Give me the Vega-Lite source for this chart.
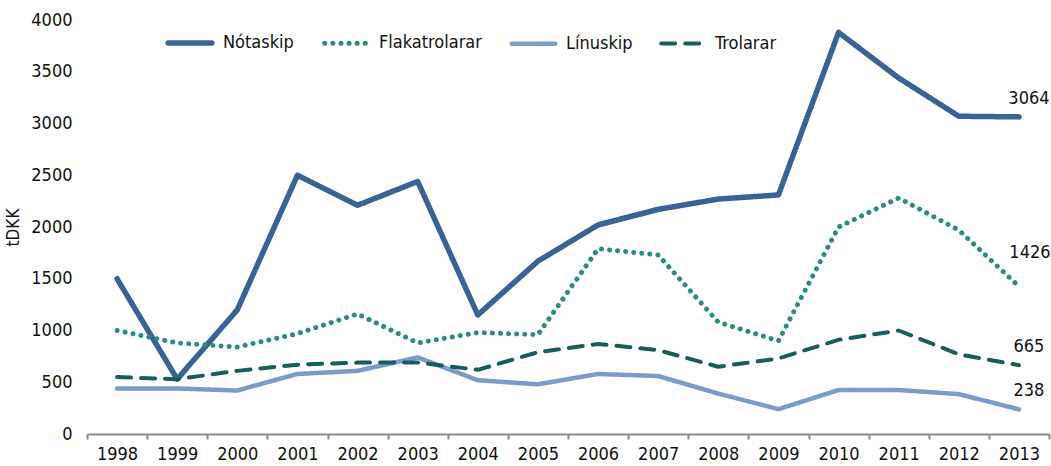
{
  "$schema": "https://vega.github.io/schema/vega-lite/v6.json",
  "width": 962,
  "height": 414,
  "autosize": {"type": "none"},
  "padding": {"left": 87, "top": 20, "right": 2, "bottom": 32},
  "config": {
    "view": {"stroke": null},
    "font": "Liberation Sans Narrow, DejaVu Sans Condensed, sans-serif",
    "text": {"font": "Liberation Sans Narrow, DejaVu Sans Condensed, sans-serif"}
  },
  "data": {
    "values": [
      {"year": "1998", "series": "Nótaskip", "value": 1500},
      {"year": "1999", "series": "Nótaskip", "value": 530},
      {"year": "2000", "series": "Nótaskip", "value": 1200},
      {"year": "2001", "series": "Nótaskip", "value": 2500},
      {"year": "2002", "series": "Nótaskip", "value": 2210},
      {"year": "2003", "series": "Nótaskip", "value": 2440},
      {"year": "2004", "series": "Nótaskip", "value": 1150},
      {"year": "2005", "series": "Nótaskip", "value": 1670},
      {"year": "2006", "series": "Nótaskip", "value": 2020},
      {"year": "2007", "series": "Nótaskip", "value": 2170},
      {"year": "2008", "series": "Nótaskip", "value": 2270},
      {"year": "2009", "series": "Nótaskip", "value": 2310},
      {"year": "2010", "series": "Nótaskip", "value": 3880},
      {"year": "2011", "series": "Nótaskip", "value": 3440},
      {"year": "2012", "series": "Nótaskip", "value": 3070},
      {"year": "2013", "series": "Nótaskip", "value": 3064},
      {"year": "1998", "series": "Flakatrolarar", "value": 1000},
      {"year": "1999", "series": "Flakatrolarar", "value": 880},
      {"year": "2000", "series": "Flakatrolarar", "value": 840},
      {"year": "2001", "series": "Flakatrolarar", "value": 970},
      {"year": "2002", "series": "Flakatrolarar", "value": 1160},
      {"year": "2003", "series": "Flakatrolarar", "value": 880},
      {"year": "2004", "series": "Flakatrolarar", "value": 980},
      {"year": "2005", "series": "Flakatrolarar", "value": 960},
      {"year": "2006", "series": "Flakatrolarar", "value": 1790},
      {"year": "2007", "series": "Flakatrolarar", "value": 1730},
      {"year": "2008", "series": "Flakatrolarar", "value": 1080},
      {"year": "2009", "series": "Flakatrolarar", "value": 900},
      {"year": "2010", "series": "Flakatrolarar", "value": 2000},
      {"year": "2011", "series": "Flakatrolarar", "value": 2280},
      {"year": "2012", "series": "Flakatrolarar", "value": 1970},
      {"year": "2013", "series": "Flakatrolarar", "value": 1426},
      {"year": "1998", "series": "Línuskip", "value": 440},
      {"year": "1999", "series": "Línuskip", "value": 440},
      {"year": "2000", "series": "Línuskip", "value": 420},
      {"year": "2001", "series": "Línuskip", "value": 580},
      {"year": "2002", "series": "Línuskip", "value": 610},
      {"year": "2003", "series": "Línuskip", "value": 740},
      {"year": "2004", "series": "Línuskip", "value": 520},
      {"year": "2005", "series": "Línuskip", "value": 480},
      {"year": "2006", "series": "Línuskip", "value": 580},
      {"year": "2007", "series": "Línuskip", "value": 560},
      {"year": "2008", "series": "Línuskip", "value": 390},
      {"year": "2009", "series": "Línuskip", "value": 240},
      {"year": "2010", "series": "Línuskip", "value": 425},
      {"year": "2011", "series": "Línuskip", "value": 425},
      {"year": "2012", "series": "Línuskip", "value": 385},
      {"year": "2013", "series": "Línuskip", "value": 238},
      {"year": "1998", "series": "Trolarar", "value": 550},
      {"year": "1999", "series": "Trolarar", "value": 530},
      {"year": "2000", "series": "Trolarar", "value": 610},
      {"year": "2001", "series": "Trolarar", "value": 670},
      {"year": "2002", "series": "Trolarar", "value": 690},
      {"year": "2003", "series": "Trolarar", "value": 690},
      {"year": "2004", "series": "Trolarar", "value": 620},
      {"year": "2005", "series": "Trolarar", "value": 790},
      {"year": "2006", "series": "Trolarar", "value": 870},
      {"year": "2007", "series": "Trolarar", "value": 810},
      {"year": "2008", "series": "Trolarar", "value": 650},
      {"year": "2009", "series": "Trolarar", "value": 730},
      {"year": "2010", "series": "Trolarar", "value": 910},
      {"year": "2011", "series": "Trolarar", "value": 1000},
      {"year": "2012", "series": "Trolarar", "value": 770},
      {"year": "2013", "series": "Trolarar", "value": 665}
    ]
  },
  "encoding": {
    "x": {
      "field": "year", "type": "ordinal",
      "scale": {"type": "band", "paddingInner": 0, "paddingOuter": 0},
      "axis": {
        "title": null, "labelAngle": 0, "tickBand": "extent",
        "domainColor": "#8a8a8a", "domainWidth": 2, "tickColor": "#8a8a8a", "tickWidth": 2, "tickSize": 5,
        "labelFontSize": 18, "labelColor": "#111111", "labelPadding": 6
      }
    },
    "y": {
      "field": "value", "type": "quantitative",
      "scale": {"domain": [0, 4000], "nice": false},
      "axis": {
        "title": "tDKK", "titleFontSize": 17, "titleFontWeight": "normal", "titleColor": "#111111", "titlePadding": 8,
        "values": [0, 500, 1000, 1500, 2000, 2500, 3000, 3500, 4000], "format": "d",
        "grid": false, "domain": false, "ticks": false,
        "labelFontSize": 18, "labelColor": "#111111", "labelPadding": 15
      }
    }
  },
  "layer": [
    {
      "mark": {"type": "line", "strokeCap": "round", "strokeJoin": "round"},
      "encoding": {
        "color": {
          "field": "series", "type": "nominal",
          "scale": {
            "domain": ["Nótaskip", "Flakatrolarar", "Línuskip", "Trolarar"],
            "range": ["#3a6395", "#2a8c82", "#7b9bcb", "#175d5e"]
          },
          "legend": {
            "title": null, "orient": "none", "direction": "horizontal", "legendX": 78, "legendY": -2,
            "symbolType": "stroke", "symbolSize": 1900, "symbolStrokeWidth": 5,
            "labelFontSize": 18, "labelColor": "#111111", "columnPadding": 20, "labelOffset": 8,
            "encode": {"symbols": {"update": {"strokeCap": {"value": "round"}}}}
          }
        },
        "strokeDash": {
          "field": "series", "type": "nominal",
          "scale": {
            "domain": ["Nótaskip", "Flakatrolarar", "Línuskip", "Trolarar"],
            "range": [[1, 0], [0.1, 8], [1, 0], [14, 10]]
          },
          "legend": {
            "title": null, "orient": "none", "direction": "horizontal", "legendX": 78, "legendY": -2,
            "symbolType": "stroke", "symbolSize": 1900, "symbolStrokeWidth": 5,
            "labelFontSize": 18, "labelColor": "#111111", "columnPadding": 20, "labelOffset": 8,
            "encode": {"symbols": {"update": {"strokeCap": {"value": "round"}}}}
          }
        },
        "strokeWidth": {
          "field": "series", "type": "nominal",
          "scale": {
            "domain": ["Nótaskip", "Flakatrolarar", "Línuskip", "Trolarar"],
            "range": [5.5, 4, 5.5, 4.5]
          },
          "legend": null
        }
      }
    },
    {
      "transform": [{"filter": "datum.year == '2013' && datum.series != 'Flakatrolarar'"}],
      "mark": {"type": "text", "dy": -18, "dx": 10, "fontSize": 18, "color": "#111111"},
      "encoding": {"text": {"field": "value", "type": "quantitative", "format": "d"}}
    },
    {
      "transform": [{"filter": "datum.year == '2013' && datum.series == 'Flakatrolarar'"}],
      "mark": {"type": "text", "dy": -33, "dx": 11, "fontSize": 18, "color": "#111111"},
      "encoding": {"text": {"field": "value", "type": "quantitative", "format": "d"}}
    }
  ]
}
